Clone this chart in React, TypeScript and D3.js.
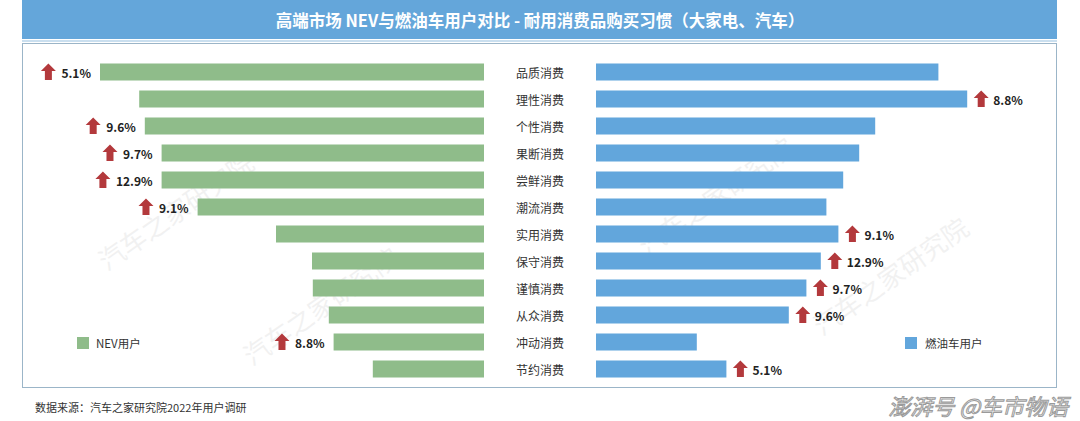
import React from "react";
import * as d3 from "d3";

const categories = ["品质消费", "理性消费", "个性消费", "果断消费", "尝鲜消费", "潮流消费", "实用消费", "保守消费", "谨慎消费", "从众消费", "冲动消费", "节约消费"];
const nevValues = [48.0, 43.1, 42.4, 40.3, 40.3, 35.8, 26.0, 21.5, 21.4, 19.4, 18.8, 13.9];
const iceValues = [42.8, 46.4, 34.9, 32.9, 30.9, 28.8, 30.3, 28.1, 26.3, 24.1, 12.6, 16.3];
// lead over the other group, shown by arrow labels (null = no label)
const nevLead: (string | null)[] = ["5.1%", null, "9.6%", "9.7%", "12.9%", "9.1%", null, null, null, null, "8.8%", null];
const iceLead: (string | null)[] = [null, "8.8%", null, null, null, null, "9.1%", "12.9%", "9.7%", "9.6%", null, "5.1%"];
const seriesNames = ["NEV用户", "燃油车用户"];
const title = "高端市场 NEV与燃油车用户对比 - 耐用消费品购买习惯（大家电、汽车）";
const source = "数据来源：汽车之家研究院2022年用户调研";

const W = 1080;
const H = 421;
const GREEN = "#8fbc8a";
const BLUE = "#62a6dc";
const RED = "#b3393c";
const FONT = "'Noto Sans CJK SC', 'Noto Sans', sans-serif";
const LABEL_SIZE = 12;
const LABEL_FONT = `bold ${LABEL_SIZE}px ${FONT}`;

let ctx: CanvasRenderingContext2D | null = null;
function textWidth(s: string): number {
  if (!ctx) {
    const c = document.createElement("canvas");
    ctx = c.getContext("2d");
  }
  if (!ctx) return s.length * 7;
  ctx.font = LABEL_FONT;
  return ctx.measureText(s).width;
}

function Arrow({ cx, cy }: { cx: number; cy: number }) {
  const path = d3.path();
  path.moveTo(cx, cy - 8.5);
  path.lineTo(cx + 7.5, cy - 1);
  path.lineTo(cx + 3.5, cy - 1);
  path.lineTo(cx + 3.5, cy + 8);
  path.lineTo(cx - 3.5, cy + 8);
  path.lineTo(cx - 3.5, cy - 1);
  path.lineTo(cx - 7.5, cy - 1);
  path.closePath();
  return <path d={path.toString()} fill={RED} />;
}

export default function App() {
  const y = d3.scaleBand<string>().domain(categories).range([58.5, 382.5]).paddingInner(0.37).paddingOuter(0.185);
  const xLeft = d3.scaleLinear().domain([0, 50]).range([484, 84]);
  const xRight = d3.scaleLinear().domain([0, 50]).range([596, 996]);
  const bw = y.bandwidth();

  const watermarks = [
    { x: 175, y: 210 },
    { x: 320, y: 305 },
    { x: 715, y: 195 },
    { x: 890, y: 275 },
  ];

  return (
    <svg width={W} height={H} style={{ position: "absolute", left: 0, top: 0, background: "#fff" }} fontFamily={FONT}>
      {/* title bar */}
      <rect x={22} y={0} width={1035} height={39} fill="#64a6da" />
      <line x1={22} x2={1057} y1={41} y2={41} stroke="#b8d4ea" strokeWidth={1.5} />
      <text x={540} y={20} textAnchor="middle" dominantBaseline="central" fill="#fff" fontSize={16.5} fontWeight="bold">
        {title}
      </text>
      {/* frame */}
      <rect x={22.5} y={43.5} width={1034} height={344} fill="none" stroke="#9bb5c8" strokeWidth={1} />

      {/* watermarks */}
      {watermarks.map((w, i) => (
        <text key={i} x={w.x} y={w.y} textAnchor="middle" dominantBaseline="central" fontSize={26} fill="#000" opacity={0.05}
          transform={`rotate(-35, ${w.x}, ${w.y})`}>
          汽车之家研究院
        </text>
      ))}

      {/* left bars */}
      {categories.map((c, i) => (
        <rect key={"l" + c} x={xLeft(nevValues[i])} y={y(c)!} width={xLeft(0) - xLeft(nevValues[i])} height={bw} fill={GREEN} />
      ))}
      {/* right bars */}
      {categories.map((c, i) => (
        <rect key={"r" + c} x={xRight(0)} y={y(c)!} width={xRight(iceValues[i]) - xRight(0)} height={bw} fill={BLUE} />
      ))}
      {/* category labels */}
      {categories.map((c) => (
        <text key={"c" + c} x={540} y={y(c)! + bw / 2} textAnchor="middle" dominantBaseline="central" fontSize={12} fill="#333">
          {c}
        </text>
      ))}
      {/* left arrows */}
      {categories.map((c, i) => {
        const lab = nevLead[i];
        if (!lab) return null;
        const cy = y(c)! + bw / 2;
        const textEnd = xLeft(nevValues[i]) - 9;
        const tw = textWidth(lab);
        return (
          <g key={"la" + c}>
            <Arrow cx={textEnd - tw - 13} cy={cy} />
            <text x={textEnd} y={cy} textAnchor="end" dominantBaseline="central" fontSize={LABEL_SIZE} fontWeight="bold" fill="#222">
              {lab}
            </text>
          </g>
        );
      })}
      {/* right arrows */}
      {categories.map((c, i) => {
        const lab = iceLead[i];
        if (!lab) return null;
        const cy = y(c)! + bw / 2;
        const end = xRight(iceValues[i]);
        return (
          <g key={"ra" + c}>
            <Arrow cx={end + 14} cy={cy} />
            <text x={end + 26} y={cy} dominantBaseline="central" fontSize={LABEL_SIZE} fontWeight="bold" fill="#222">
              {lab}
            </text>
          </g>
        );
      })}

      {/* legends */}
      <rect x={77} y={337} width={12} height={12} fill={GREEN} />
      <text x={96} y={343} dominantBaseline="central" fontSize={11.5} fill="#333">{seriesNames[0]}</text>
      <rect x={905} y={337} width={12} height={12} fill={BLUE} />
      <text x={925} y={343} dominantBaseline="central" fontSize={11.5} fill="#333">{seriesNames[1]}</text>

      {/* source */}
      <text x={35} y={407} dominantBaseline="central" fontSize={11} fill="#333">{source}</text>

      {/* platform watermark */}
      <text x={1068} y={405} textAnchor="end" dominantBaseline="central" fontSize={22} fill="#fff" stroke="#9a9a9a" strokeWidth={1}
        fontStyle="italic">
        澎湃号 @车市物语
      </text>
    </svg>
  );
}
